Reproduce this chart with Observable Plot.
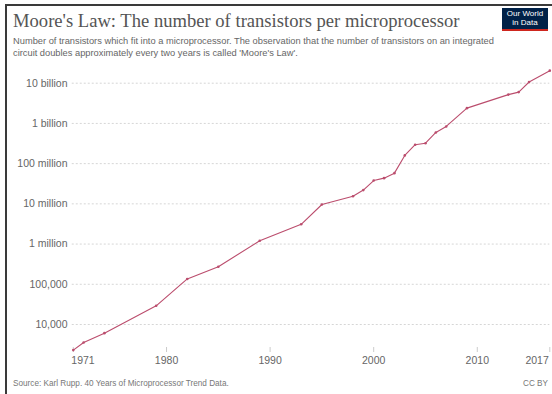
<!DOCTYPE html>
<html><head><meta charset="utf-8">
<script src="https://cdn.jsdelivr.net/npm/d3@7"></script>
<script src="https://cdn.jsdelivr.net/npm/@observablehq/plot@0.6"></script>
<style>
body{margin:0;background:#fff;font-family:"Liberation Sans",Arial,sans-serif;width:552px;height:394px;overflow:hidden;position:relative;}
#frame{position:absolute;left:5px;top:4px;width:550px;height:392px;border-top:2px solid #3a3a3a;border-left:2px solid #3a3a3a;}
#title{position:absolute;left:13px;top:10px;font-family:"Liberation Serif","Times New Roman",serif;font-size:18.6px;color:#555;white-space:nowrap;}
#subtitle{position:absolute;left:13px;top:35px;width:495px;font-size:9.3px;line-height:12px;color:#666;}
#logo{position:absolute;left:502px;top:8px;width:46px;height:20px;background:#002147;color:#fff;font-size:8px;line-height:9px;text-align:center;padding-top:1px;border-bottom:2px solid #ce261e;}
#chart{position:absolute;left:0;top:60px;}
#source{position:absolute;left:13px;top:379px;font-size:8.2px;color:#777;}
#cc{position:absolute;right:4px;top:379px;font-size:8.2px;color:#777;}
</style></head><body>
<div id="frame"></div>
<div id="title">Moore's Law: The number of transistors per microprocessor</div>
<div id="subtitle">Number of transistors which fit into a microprocessor. The observation that the number of transistors on an integrated circuit doubles approximately every two years is called 'Moore's Law'.</div>
<div id="logo">Our World<br>in Data</div>
<div id="chart"></div>
<div id="source">Source: Karl Rupp. 40 Years of Microprocessor Trend Data.</div>
<div id="cc">CC BY</div>
<script>
const years = [1971,1972,1974,1979,1982,1985,1989,1993,1995,1998,1999,2000,2001,2002,2003,2004,2005,2006,2007,2009,2013,2014,2015,2017];
const transistors = [2308,3554,6097,29163,135773,273842,1207670,3105900,9646616,15500000,22000000,38000000,43600000,58000000,160000000,295000000,322000000,597000000,841000000,2400000000,5200000000,6000000000,10700000000,20500000000];
const yTicks = [1e4,1e5,1e6,1e7,1e8,1e9,1e10];
const yTickLabels = ["10,000","100,000","1 million","10 million","100 million","1 billion","10 billion"];
const xTicks = [1971,1980,1990,2000,2010,2017];

const data = years.map((y,i)=>({year:y, value:transistors[i]}));
const color = "#bb4d6d";
const H = 312;
const chart = Plot.plot({
  width: 552, height: H,
  marginLeft: 70, marginRight: 0, marginTop: 0, marginBottom: 25,
  x: {domain:[1971,2017], range:[72.8,549.3], label: null},
  y: {type:"log", domain:[1e4,1e10], range:[264,22.7], label: null},
  style: {fontFamily:'"Liberation Sans",Arial,sans-serif', background:"transparent", overflow:"visible"},
  marks: [
    Plot.ruleY(yTicks, {y: d=>d, x1: 1970.9, x2: 2017, stroke:"#d6d6d6", strokeDasharray:"2,2", strokeWidth:1}),
    Plot.axisY(yTicks, {tickSize:0, tickPadding:3, label: null, tickFormat: d => yTickLabels[yTicks.indexOf(d)], fontSize:10.5, fill:"#666"}),
    Plot.axisX(xTicks, {tickSize:5, tickPadding:4, label: null, stroke:"#ccc", tickFormat: d => (d===1971||d===2017) ? "" : String(d), fontSize:10.5, fill:"#666"}),
    Plot.text([xTicks[0]], {x: d=>d, frameAnchor:"bottom", lineAnchor:"top", dy:9, dx:-2, textAnchor:"start", text: d=>String(d), fontSize:10.5, fill:"#666"}),
    Plot.text([xTicks[xTicks.length-1]], {x: d=>d, frameAnchor:"bottom", lineAnchor:"top", dy:9, dx:-1, textAnchor:"end", text: d=>String(d), fontSize:10.5, fill:"#666"}),
    Plot.line(data, {x:"year", y:"value", stroke: color, strokeWidth:1.1}),
    Plot.dot(data, {x:"year", y:"value", r:1.3, fill: color, stroke:"none"})
  ]
});
document.getElementById("chart").appendChild(chart);
</script>
</body></html>
